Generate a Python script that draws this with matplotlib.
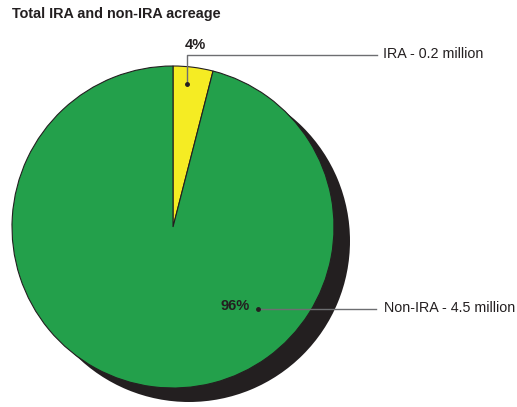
import numpy as np
import matplotlib.pyplot as plt

plt.rcParams['font.family'] = ['Liberation Sans', 'DejaVu Sans']

# Data
categories = ["IRA", "Non-IRA"]
acreage_million = [0.2, 4.5]
shares = [4, 96]  # percent
colors = ["#f5ec23", "#23a04b"]
shadow_color = "#231f20"

W, H = 517, 407
fig = plt.figure(figsize=(W / 100, H / 100), dpi=100)
ax = fig.add_axes([0, 0, 1, 1])

# pie geometry in pixel units (y up)
cx, cy, r = 173, H - 227, 161

# drop shadow
ax.pie([sum(shares)], colors=[shadow_color], center=(cx + 16, cy - 14), radius=r,
       wedgeprops=dict(linewidth=0))
wedges, _ = ax.pie(shares, colors=colors, startangle=90, counterclock=False,
                   center=(cx, cy), radius=r,
                   wedgeprops=dict(edgecolor=shadow_color, linewidth=0.8))

ax.set_xlim(0, W)
ax.set_ylim(0, H)
ax.set_aspect('equal')
ax.axis('off')

# title
ax.text(12, H - 14, "Total IRA and non-IRA acreage", fontsize=10.4, fontweight='bold',
        ha='left', va='center', color='#231f20')

# leader lines and labels
line_col = "#6d6e71"
# IRA
ax.plot([187, 187, 377], [H - 84, H - 55, H - 55], color=line_col, lw=1, zorder=5)
ax.plot(187, H - 84, 'o', color=shadow_color, ms=2.5, zorder=6)
ax.text(195, H - 45, f"{shares[0]}%", fontsize=10.5, fontweight='bold', ha='center',
        va='center', color='#231f20')
ax.text(383, H - 54, f"{categories[0]} - {acreage_million[0]} million", fontsize=10.3,
        ha='left', va='center', color='#231f20')
# Non-IRA
ax.plot([258, 376], [H - 309, H - 309], color=line_col, lw=1, zorder=5)
ax.plot(258, H - 309, 'o', color=shadow_color, ms=2.5, zorder=6)
ax.text(235.5, H - 306, f"{shares[1]}%", fontsize=10.5, fontweight='bold', ha='center',
        va='center', color='#231f20')
ax.text(384, H - 308, f"{categories[1]} - {acreage_million[1]} million", fontsize=10.3,
        ha='left', va='center', color='#231f20')

fig.savefig("out.png", dpi=100)
